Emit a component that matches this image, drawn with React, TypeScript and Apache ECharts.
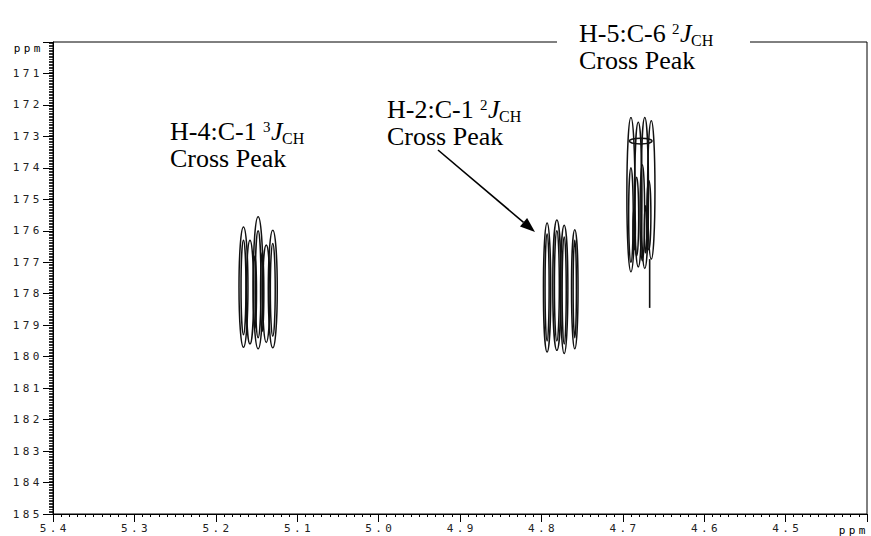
import React, { useEffect, useRef } from "react";
import * as echarts from "echarts";

// Axis ranges (ppm)
const xRange = [4.4, 5.4];
const yRange = [170, 185];

// Contours: [x centre (ppm), top (ppm), bottom (ppm), half width (ppm)]
const peakH4C1: number[][] = [
  [5.166, 175.88, 179.7, 0.0055],
  [5.158, 176.3, 179.6, 0.0045],
  [5.148, 175.55, 179.75, 0.006],
  [5.138, 176.45, 179.55, 0.0045],
  [5.13, 175.98, 179.72, 0.0055],
  [5.166, 176.3, 179.3, 0.003],
  [5.148, 176.0, 179.4, 0.0035],
  [5.13, 176.4, 179.35, 0.003],
  [5.152, 176.8, 179.1, 0.002],
  [5.143, 176.7, 179.2, 0.002],
];

const peakH2C1: number[][] = [
  [4.793, 175.75, 179.85, 0.0045],
  [4.781, 175.66, 179.8, 0.005],
  [4.772, 175.82, 179.9, 0.0045],
  [4.759, 175.97, 179.75, 0.004],
  [4.793, 176.1, 179.5, 0.0025],
  [4.781, 176.0, 179.5, 0.003],
  [4.772, 176.2, 179.6, 0.0025],
  [4.759, 176.3, 179.4, 0.002],
];

const peakH5C6: number[][] = [
  [4.69, 172.4, 177.3, 0.005],
  [4.681, 172.55, 177.15, 0.0045],
  [4.673, 172.4, 177.2, 0.0045],
  [4.665, 172.5, 176.9, 0.0045],
  [4.69, 174.0, 177.0, 0.0028],
  [4.683, 174.3, 176.8, 0.0025],
  [4.676, 173.9, 176.95, 0.0028],
  [4.668, 174.4, 176.6, 0.0025],
  [4.686, 175.3, 176.6, 0.0015],
  [4.672, 175.2, 176.7, 0.0015],
  [4.678, 173.06, 173.24, 0.014],
];

const peakH5C6Tail: number[][] = [
  [4.667, 176.9],
  [4.667, 178.45],
];

const monoFont = "DejaVu Sans Mono";
const serifFont = "Liberation Serif";

const spaced = (s: string) =>
  s
    .split("")
    .map((c) => `{c|${c}}`)
    .join("");

const charRich = {
  c: {
    width: 10,
    align: "center" as const,
    fontFamily: monoFont,
    fontSize: 11,
    color: "#222",
  },
};

function contourSeries(name: string, data: number[][]) {
  return {
    name,
    type: "custom",
    coordinateSystem: "cartesian2d",
    clip: true,
    encode: { x: 0, y: [1, 2] },
    data,
    renderItem: (_params: any, api: any) => {
      const xc = api.value(0);
      const top = api.value(1);
      const bot = api.value(2);
      const hw = api.value(3);
      const pTop = api.coord([xc, top]);
      const pBot = api.coord([xc, bot]);
      const pSide = api.coord([xc + hw, top]);
      const rx = Math.abs(pSide[0] - pTop[0]);
      const ry = Math.abs(pBot[1] - pTop[1]) / 2;
      const cx = pTop[0];
      const cy = (pTop[1] + pBot[1]) / 2;
      const d = `M ${cx} ${cy - ry} A ${rx} ${ry} 0 1 1 ${cx} ${cy + ry} A ${rx} ${ry} 0 1 1 ${cx} ${cy - ry} Z`;
      return {
        type: "path",
        shape: { pathData: d },
        style: { fill: "none", stroke: "#111", lineWidth: 1.5 },
      };
    },
  };
}

function labelTexts(
  x: number,
  base1: number,
  base2: number,
  head: string,
  sup: string,
  supX: number,
  jX: number,
  subX: number
) {
  const main = `26px "${serifFont}"`;
  return [
    { type: "text", z: 101, style: { text: head, x, y: base1 - 8.8, font: main, fill: "#000", verticalAlign: "middle" } },
    { type: "text", z: 101, style: { text: sup, x: supX, y: base1 - 12.8, font: `15px "${serifFont}"`, fill: "#000", verticalAlign: "middle" } },
    { type: "text", z: 101, style: { text: "J", x: jX, y: base1 - 8.8, font: `italic 26px "${serifFont}"`, fill: "#000", verticalAlign: "middle" } },
    { type: "text", z: 101, style: { text: "CH", x: subX, y: base1 - 2.0, font: `16px "${serifFont}"`, fill: "#000", verticalAlign: "middle" } },
    { type: "text", z: 101, style: { text: "Cross Peak", x, y: base2 - 8.8, font: main, fill: "#000", verticalAlign: "middle" } },
  ];
}

export default function App() {
  const ref = useRef<HTMLDivElement>(null);

  useEffect(() => {
    if (!ref.current) return;
    const chart = echarts.init(ref.current, null, { renderer: "svg" });

    // arrow geometry (annotation)
    const ax0 = 438, ay0 = 150, ax1 = 535, ay1 = 232;
    const len = Math.hypot(ax1 - ax0, ay1 - ay0);
    const ux = (ax1 - ax0) / len, uy = (ay1 - ay0) / len;
    const hl = 15, hwid = 5.5;
    const bx = ax1 - ux * hl, by = ay1 - uy * hl;

    chart.setOption({
      animation: false,
      backgroundColor: "#fff",
      grid: {
        left: 53,
        right: 4,
        top: 42,
        bottom: 22,
        show: true,
        borderColor: "#000",
        borderWidth: 1,
        backgroundColor: "transparent",
      },
      xAxis: {
        type: "value",
        inverse: true,
        min: xRange[0],
        max: xRange[1],
        interval: 0.1,
        axisLine: { show: true, onZero: false, lineStyle: { color: "#000", width: 1 } },
        axisTick: { show: true, length: 8, lineStyle: { color: "#000", width: 1 } },
        minorTick: { show: true, splitNumber: 10, length: 3, lineStyle: { color: "#000", width: 1 } },
        splitLine: { show: false },
        minorSplitLine: { show: false },
        axisLabel: {
          margin: 9,
          formatter: (v: number) => (Math.abs(v - 4.4) < 1e-6 ? "" : spaced(v.toFixed(1))),
          rich: charRich,
        },
      },
      yAxis: {
        type: "value",
        inverse: true,
        min: yRange[0],
        max: yRange[1],
        interval: 1,
        axisLine: { show: true, onZero: false, lineStyle: { color: "#000", width: 1 } },
        axisTick: { show: true, length: 10, lineStyle: { color: "#000", width: 1 } },
        minorTick: { show: true, splitNumber: 20, length: 4, lineStyle: { color: "#000", width: 0.8 } },
        splitLine: { show: false },
        minorSplitLine: { show: false },
        axisLabel: {
          margin: 12,
          formatter: (v: number) => (Math.abs(v - 170) < 1e-6 ? "" : spaced(String(Math.round(v)))),
          rich: charRich,
        },
      },
      series: [
        contourSeries("H-4:C-1", peakH4C1),
        contourSeries("H-2:C-1", peakH2C1),
        contourSeries("H-5:C-6", peakH5C6),
        {
          name: "H-5:C-6 tail",
          type: "line",
          data: peakH5C6Tail,
          symbol: "none",
          lineStyle: { color: "#111", width: 1.6 },
        },
      ],
      graphic: [
        { type: "rect", z: 100, shape: { x: 557, y: 34, width: 193, height: 16 }, style: { fill: "#fff" } },
        ...labelTexts(170, 140, 167.3, "H-4:C-1", "3", 263, 271, 282),
        ...labelTexts(387, 118, 145.3, "H-2:C-1", "2", 480, 488, 499),
        ...labelTexts(579, 42, 69.3, "H-5:C-6", "2", 672, 680, 691),
        {
          type: "line",
          z: 101,
          shape: { x1: ax0, y1: ay0, x2: bx, y2: by },
          style: { stroke: "#000", lineWidth: 1.6 },
        },
        {
          type: "polygon",
          z: 101,
          shape: {
            points: [
              [ax1, ay1],
              [bx - uy * hwid, by + ux * hwid],
              [bx + uy * hwid, by - ux * hwid],
            ],
          },
          style: { fill: "#000" },
        },
        {
          type: "text",
          z: 101,
          style: { text: spaced("ppm"), rich: charRich, x: 867, y: 530, align: "right", verticalAlign: "middle" },
        },
        {
          type: "text",
          z: 101,
          style: { text: spaced("ppm"), rich: charRich, x: 42, y: 48, align: "right", verticalAlign: "middle" },
        },
      ],
    });

    return () => chart.dispose();
  }, []);

  return (
    <div
      ref={ref}
      style={{ position: "fixed", left: 0, top: 0, width: 871, height: 536, background: "#fff" }}
    />
  );
}
